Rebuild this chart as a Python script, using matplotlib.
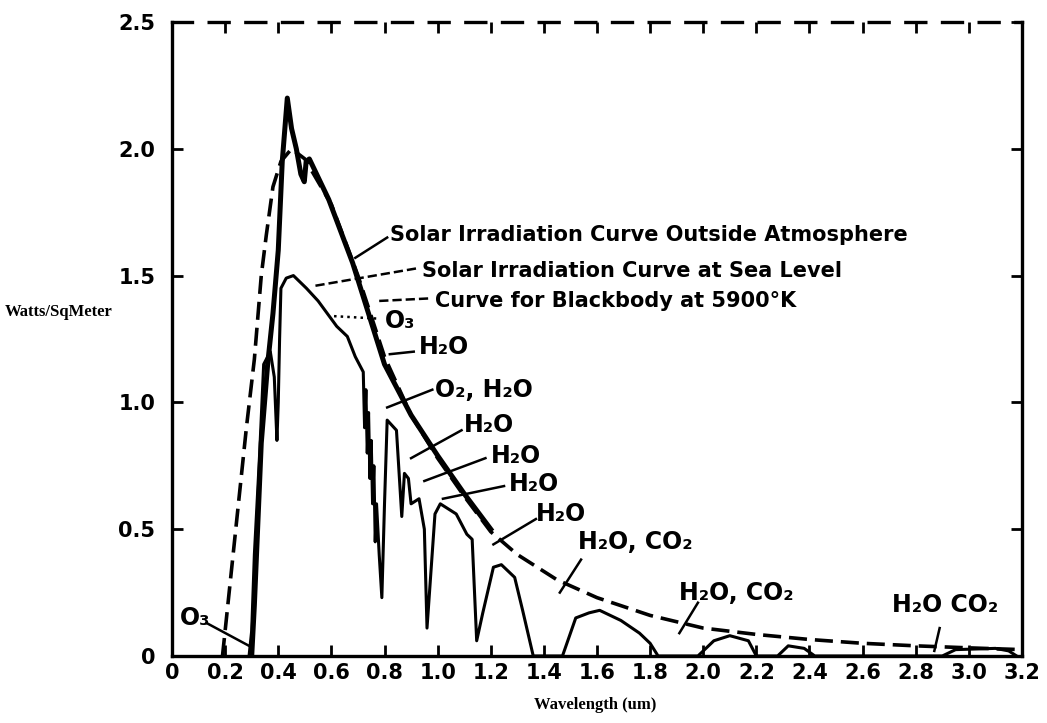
import matplotlib
matplotlib.use("Agg")
import matplotlib.pyplot as plt
from matplotlib import font_manager

# --- values (wavelength um / W per sq m) ---
bb_wl = [0.19, 0.22, 0.25, 0.28, 0.31, 0.336, 0.355, 0.38, 0.41, 0.45, 0.50,
         0.60, 0.70, 0.80, 0.90, 1.0, 1.1, 1.2, 1.3, 1.45, 1.6, 1.8, 2.0,
         2.2, 2.4, 2.6, 2.8, 3.0, 3.2]
bb_val = [0.0, 0.3, 0.6, 0.9, 1.17, 1.5, 1.66, 1.85, 1.95, 2.0, 1.96,
          1.78, 1.5, 1.18, 0.95, 0.78, 0.63, 0.49, 0.40, 0.30, 0.23, 0.16, 0.11,
          0.085, 0.065, 0.05, 0.04, 0.032, 0.025]

out_wl = [0.30, 0.31, 0.336, 0.36, 0.38, 0.40, 0.415, 0.434, 0.45, 0.468,
          0.485, 0.498, 0.505, 0.517, 0.59, 0.68, 0.74, 0.80, 0.90, 1.00,
          1.10, 1.20]
out_val = [0.0, 0.2, 0.84, 1.15, 1.35, 1.6, 1.95, 2.2, 2.08, 2.0,
           1.9, 1.87, 1.95, 1.96, 1.80, 1.55, 1.35, 1.15, 0.95, 0.79,
           0.64, 0.5]

sea_wl = [0.29, 0.30, 0.31, 0.33, 0.345, 0.37, 0.385, 0.395, 0.40, 0.405,
          0.41, 0.43, 0.457, 0.506, 0.55, 0.62, 0.66, 0.69, 0.72, 0.725,
          0.73, 0.735, 0.74, 0.745, 0.75, 0.755, 0.76, 0.765, 0.77, 0.78,
          0.79, 0.80, 0.81, 0.845, 0.865, 0.875, 0.89, 0.90,
          0.93, 0.95, 0.96, 0.99, 1.01, 1.07, 1.11, 1.13, 1.147, 1.17,
          1.21, 1.24, 1.29, 1.32, 1.36, 1.47, 1.52, 1.57, 1.61, 1.69,
          1.76, 1.80, 1.83, 1.98, 2.04, 2.10, 2.17, 2.20, 2.28, 2.32,
          2.38, 2.42, 2.90, 2.95, 3.10, 3.15, 3.18]
sea_val = [0.0, 0.1, 0.4, 0.8, 1.15, 1.2, 1.1, 0.85, 1.0, 1.25,
           1.45, 1.49, 1.50, 1.45, 1.40, 1.30, 1.26, 1.18, 1.12, 0.9,
           1.05, 0.8, 0.96, 0.7, 0.85, 0.6, 0.75, 0.45, 0.6, 0.4,
           0.23, 0.6, 0.93, 0.89, 0.55, 0.72, 0.70, 0.60,
           0.62, 0.50, 0.11, 0.56, 0.60, 0.56, 0.48, 0.46, 0.06, 0.17,
           0.35, 0.36, 0.31, 0.18, 0.0, 0.0, 0.15, 0.17, 0.18, 0.14,
           0.09, 0.05, 0.0, 0.0, 0.06, 0.08, 0.06, 0.0, 0.0, 0.04,
           0.03, 0.0, 0.0, 0.025, 0.03, 0.02, 0.0]

x_ticks = [0, 0.2, 0.4, 0.6, 0.8, 1.0, 1.2, 1.4, 1.6, 1.8, 2.0, 2.2, 2.4,
           2.6, 2.8, 3.0, 3.2]
x_ticklabels = ['0', '0.2', '0.4', '0.6', '0.8', '1.0', '1.2', '1.4', '1.6',
                '1.8', '2.0', '2.2', '2.4', '2.6', '2.8', '3.0', '3.2']
y_ticks = [0, 0.5, 1.0, 1.5, 2.0, 2.5]
y_ticklabels = ['0', '0.5', '1.0', '1.5', '2.0', '2.5']


def pick_font(candidates):
    names = {f.name for f in font_manager.fontManager.ttflist}
    for c in candidates:
        if c in names:
            return c
    return 'DejaVu Sans'


def make_chart():
    narrow = pick_font(['Liberation Sans Narrow', 'DejaVu Sans'])
    if narrow != 'DejaVu Sans':
        curve_size, band_size = 19, 21
    else:
        curve_size, band_size = 15, 17
    lab_font = [narrow, 'DejaVu Sans']
    serif = pick_font(['Liberation Serif', 'DejaVu Serif'])

    fig = plt.figure(figsize=(10.47, 7.23), dpi=100)
    ax = fig.add_axes([0.1643, 0.0927, 0.8118, 0.8769])

    ax.plot(bb_wl, bb_val, color='black', lw=2.6, linestyle=(0, (5, 2.2)))
    ax.plot(out_wl, out_val, color='black', lw=3.6, solid_joinstyle='round')
    ax.plot(sea_wl, sea_val, color='black', lw=2.2, solid_joinstyle='round')

    ax.set_xlim(0, 3.2)
    ax.set_ylim(0, 2.5)
    ax.set_xticks(x_ticks)
    ax.set_xticklabels(x_ticklabels)
    ax.set_yticks(y_ticks)
    ax.set_yticklabels(y_ticklabels)
    ax.tick_params(direction='in', top=True, right=True, length=8, width=2)
    ax.tick_params(axis='x', pad=5)
    ax.tick_params(axis='y', pad=12)
    for lbl in ax.get_xticklabels() + ax.get_yticklabels():
        lbl.set_fontsize(15)
        lbl.set_fontweight('bold')
        lbl.set_family(lab_font)

    for side in ['left', 'right', 'bottom', 'top']:
        ax.spines[side].set_linewidth(2.4)
    # scanned original has a broken top border
    ax.spines['top'].set_linestyle((0, (6, 5)))

    # curve names and absorption bands with their leader lines
    notes = [
        ('Solar Irradiation Curve Outside Atmosphere', 0.82, 1.66, (0.69, 1.57), (0.81, 1.65), '-'),
        ('Solar Irradiation Curve at Sea Level', 0.94, 1.52, (0.54, 1.46), (0.93, 1.53), '--'),
        ('Curve for Blackbody at 5900°K', 0.99, 1.40, (0.78, 1.40), (0.97, 1.41), '--'),
        ('O₃', 0.80, 1.32, (0.61, 1.34), (0.78, 1.33), ':'),
        ('H₂O', 0.93, 1.22, (0.82, 1.19), (0.91, 1.20), '-'),
        ('O₂, H₂O', 0.99, 1.05, (0.81, 0.98), (0.98, 1.05), '-'),
        ('H₂O', 1.10, 0.91, (0.90, 0.78), (1.09, 0.89), '-'),
        ('H₂O', 1.20, 0.79, (0.95, 0.69), (1.18, 0.78), '-'),
        ('H₂O', 1.27, 0.68, (1.02, 0.62), (1.25, 0.67), '-'),
        ('H₂O', 1.37, 0.56, (1.21, 0.44), (1.37, 0.54), '-'),
        ('H₂O, CO₂', 1.53, 0.45, (1.46, 0.25), (1.54, 0.38), '-'),
        ('H₂O, CO₂', 1.91, 0.25, (1.98, 0.21), (1.91, 0.09), '-'),
        ('H₂O CO₂', 2.71, 0.20, (2.89, 0.11), (2.87, 0.02), '-'),
        ('O₃', 0.03, 0.15, (0.13, 0.13), (0.29, 0.04), '-'),
    ]
    for i, (txt, tx, ty, p0, p1, ls) in enumerate(notes):
        ax.plot([p0[0], p1[0]], [p0[1], p1[1]], color='black', lw=1.8,
                linestyle=ls)
        size = curve_size if i < 3 else band_size
        ax.text(tx, ty, txt, ha='left', va='center', fontsize=size,
                fontweight='bold', family=lab_font)

    fig.text(0.005, 1 - 312 / 723, 'Watts/SqMeter', ha='left', va='center',
             fontsize=12, fontweight='bold', family=[serif, 'DejaVu Serif'])
    fig.text(0.568, 1 - 705 / 723, 'Wavelength (um)', ha='center', va='center',
             fontsize=12, fontweight='bold', family=[serif, 'DejaVu Serif'])

    fig.savefig('out.png', dpi=100)


if __name__ == "__main__":
    make_chart()
